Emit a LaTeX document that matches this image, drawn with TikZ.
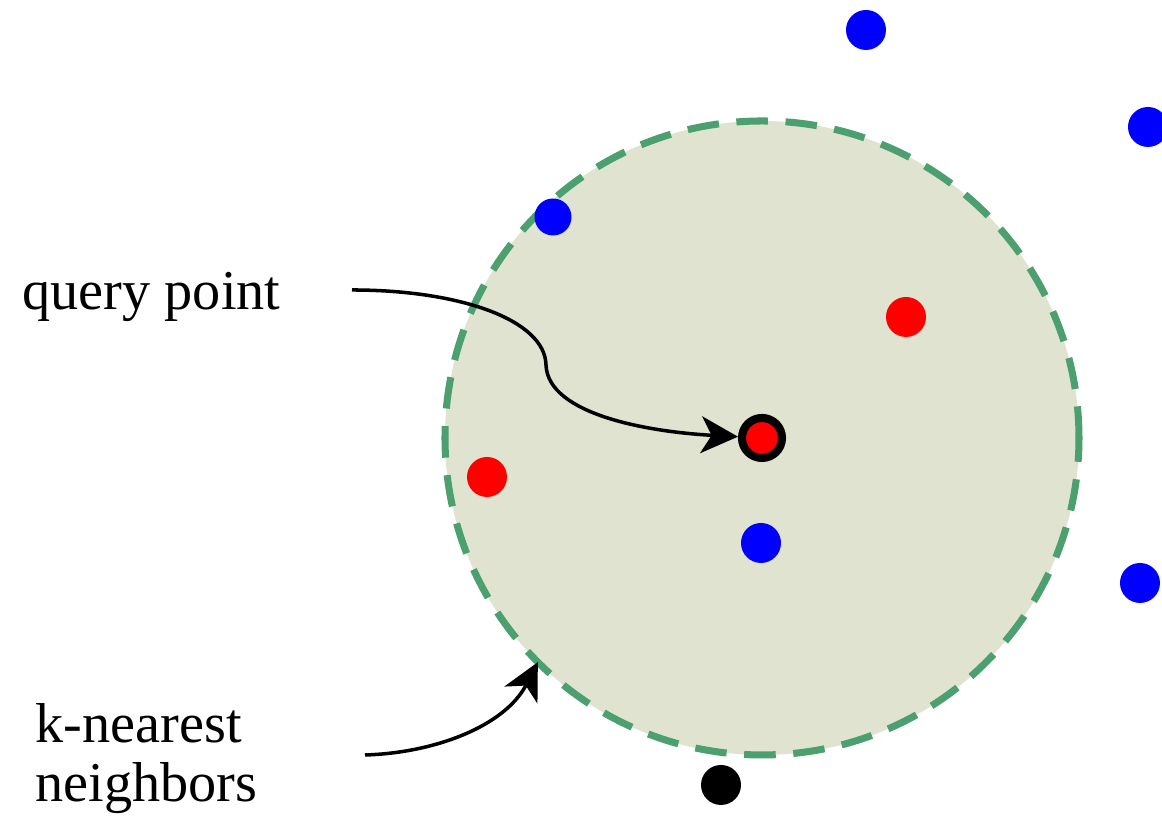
\documentclass[tikz,border=0pt]{standalone}
\usepackage{fontspec}
\setmainfont{Liberation Serif}
\newfontfamily\labelfont{Liberation Serif}
\usepackage{tikz}
\usepackage{xcolor}
\usetikzlibrary{positioning, arrows.meta}

\definecolor{ballfill}{HTML}{E0E3D0}
\definecolor{balledge}{HTML}{4C9F6E}

\tikzset{
    dot/.style={circle, minimum size=0.4cm, inner sep=0pt},
    textlabel/.style={inner sep=0pt, font=\labelfont\fontsize{16}{16.8}\selectfont, align=left},
    pointer/.style={line width=1pt, -{Stealth[length=10.5pt, width=10.5pt, inset=3pt]}}
}

\begin{document}
\begin{tikzpicture}
    \useasboundingbox (0,0) rectangle (11.62,8.21);

    % Neighborhood ball around the query point
    \node[circle, inner sep=0pt, outer sep=0pt, minimum size=6.34cm, fill=ballfill, draw=balledge,
          line width=2pt, dash pattern=on 9pt off 5pt] (ball) at (7.62,3.83) {};

    % Data points
    \node[dot, fill=blue] (b1) at (8.66,7.91) {};
    \node[dot, fill=blue] (b2) at (11.48,6.94) {};
    \node[dot, fill=blue, minimum size=0.37cm] (b3) at (5.53,6.04) {};
    \node[dot, fill=red] (r1) at (9.06,5.04) {};
    \node[dot, fill=red] (r2) at (4.87,3.44) {};
    \node[dot, fill=blue] (b4) at (7.61,2.78) {};
    \node[dot, fill=blue] (b5) at (11.40,2.38) {};
    \node[dot, fill=black] (k1) at (7.21,0.36) {};

    % Query point
    \node[dot, fill=red, draw=black, line width=2.3pt] (query) at (7.62,3.83) {};

    % Labels
    \node[textlabel, anchor=base west] (qlabel) at (0.22,5.11) {query point};
    \node[textlabel, anchor=base west] (klabel) at (0.35,0.19) {k-nearest\\neighbors};

    % Pointers
    \coordinate (qstart) at (3.52,5.31);
    \coordinate (kstart) at (3.65,0.66);
    \draw[pointer] (qstart) .. controls (4.60,5.31) and (5.45,5.01) .. (5.46,4.56)
        .. controls (5.48,4.06) and (6.50,3.89) .. (query);
    \draw[pointer] (kstart) .. controls (4.35,0.68) and (5.05,0.95) .. (ball.225);
\end{tikzpicture}
\end{document}
